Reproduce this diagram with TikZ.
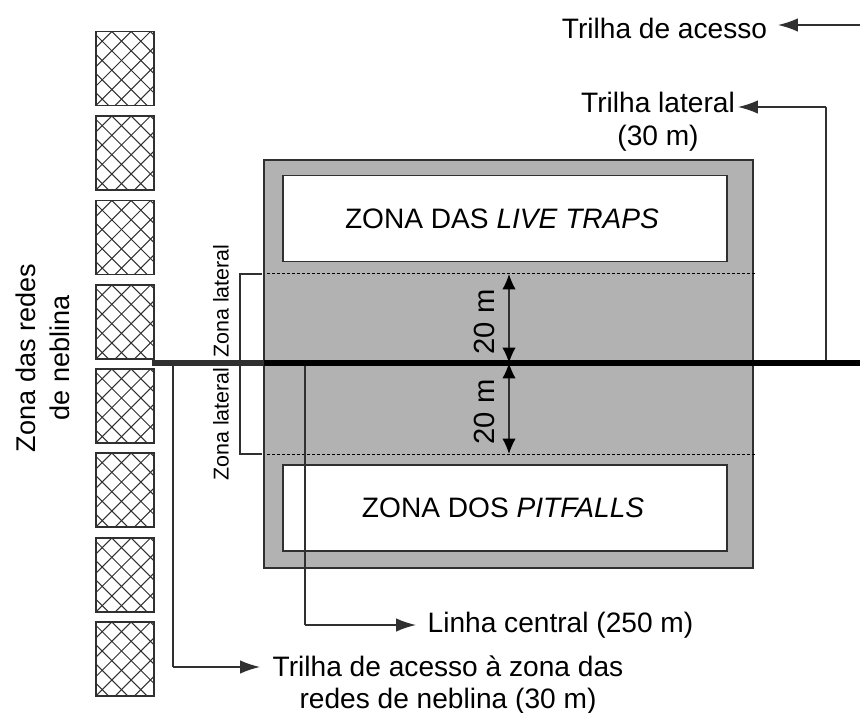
\documentclass[tikz,border=0pt]{standalone}
\usepackage{fontspec}
\setmainfont{Liberation Sans}
\usetikzlibrary{arrows.meta}
\definecolor{zonegray}{HTML}{B2B2B2}
\definecolor{linegray}{HTML}{303030}
\begin{document}
\begin{tikzpicture}[x=0.02cm, y=-0.02cm,
    netbox/.style={draw=linegray, line width=0.35mm, minimum width=1.16cm, minimum height=1.48cm, inner sep=0pt,
      path picture={
        \foreach \d in {-100,-80.7,...,100} {
          \draw[linegray, line width=0.2mm] ([xshift=\d*0.02cm]path picture bounding box.north west) -- ++(100,100);
          \draw[linegray, line width=0.2mm] ([xshift=\d*0.02cm]path picture bounding box.north east) -- ++(-100,100);
        }}},
    zonebox/.style={draw=linegray, line width=0.3mm, fill=white, minimum width=8.88cm, minimum height=1.72cm, inner sep=0pt, font=\fontsize{16}{18}\selectfont},
    label/.style={inner sep=0pt, align=center, font=\fontsize{16}{18.7}\selectfont},
    smalllabel/.style={inner sep=0pt, rotate=90, font=\fontsize{12.2}{14}\selectfont},
    conn/.style={draw=linegray, line width=0.3mm},
    arrow/.style={conn, -{Latex[length=4mm, width=2.7mm]}},
    dim/.style={draw=linegray, line width=0.25mm, {Latex[black, length=3.1mm, width=2.7mm]}-{Latex[black, length=3.1mm, width=2.7mm]}}]
  \useasboundingbox (0,0) rectangle (860,713);

  % mist nets
  \node[netbox] (net1) at (125, 68.5) {};
  \node[netbox] (net2) at (125, 153) {};
  \node[netbox] (net3) at (125, 237.5) {};
  \node[netbox] (net4) at (125, 322) {};
  \node[netbox] (net5) at (125, 406) {};
  \node[netbox] (net6) at (125, 490) {};
  \node[netbox] (net7) at (125, 575) {};
  \node[netbox] (net8) at (125, 659) {};

  \node[draw=linegray, line width=0.3mm, fill=zonegray, minimum width=9.78cm, minimum height=8.16cm, inner sep=0pt] (grid) at (508.5, 364) {};
  \node[zonebox] (traps) at (505, 218.5) {ZONA DAS \textit{LIVE TRAPS}\hspace*{3.4pt}};
  \node[zonebox] (pits) at (505, 508) {ZONA DOS \textit{PITFALLS}\hspace*{2.2pt}};

  \node[label, rotate=90, font=\fontsize{15.4}{19.3}\selectfont] (nets) at (43, 358) {Zona das redes\\de neblina};
  \node[label] (access) at (664.5, 28) {Trilha de acesso};
  \node[label] (lateral) at (658, 122) {Trilha lateral\\(30 m)};
  \node[label] (central) at (560.5, 625) {Linha central (250 m)};
  \node[label] (accessnet) at (448, 685) {Trilha de acesso à zona das\\redes de neblina (30 m)};
  \node[smalllabel] (upperzone) at (221, 301) {Zona lateral};
  \node[smalllabel] (lowerzone) at (221, 424) {Zona lateral};
  \node[label, rotate=90, font=\fontsize{16.6}{19}\selectfont] (upperdim) at (484, 322) {20 m};
  \node[label, rotate=90, font=\fontsize{16.6}{19}\selectfont] (lowerdim) at (484, 412) {20 m};

  \coordinate (lineleft) at (152, 363);
  \coordinate (linegrid) at (264, 363);
  \coordinate (lineright) at (860, 363);
  \coordinate (upperleft) at (267, 274);
  \coordinate (upperright) at (755, 274);
  \coordinate (lowerleft) at (267, 454);
  \coordinate (lowerright) at (755, 454);
  \coordinate (bracketup) at (262, 274);
  \coordinate (bracketdown) at (262, 454);
  \coordinate (bracketcorner) at (240, 274);
  \coordinate (bracketend) at (240, 454);
  \coordinate (accessright) at (860, 25);
  \coordinate (lateralfoot) at (826, 363);
  \coordinate (lateralcorner) at (826, 107);
  \coordinate (lateralend) at (738, 107);
  \coordinate (centralfoot) at (305, 363);
  \coordinate (centralcorner) at (305, 625);
  \coordinate (centralend) at (416, 625);
  \coordinate (netfoot) at (173, 363);
  \coordinate (netcorner) at (173, 667);
  \coordinate (netend) at (260, 667);
  \coordinate (accessend) at (778, 25);
  \coordinate (dimup) at (509, 274);
  \coordinate (dimmid) at (509, 363);
  \coordinate (dimdown) at (509, 454);

  % dotted limits
  \draw[black, line width=0.2mm, dash pattern=on 0.6mm off 0.4mm] (upperleft) -- (upperright);
  \draw[black, line width=0.2mm, dash pattern=on 0.6mm off 0.4mm] (lowerleft) -- (lowerright);
  \draw[conn] (bracketup) -- (bracketcorner) -- (bracketend) -- (bracketdown);

  \draw[conn] (centralfoot) -- (centralcorner);
  \draw[arrow] (centralcorner) -- (centralend);
  \draw[conn] (netfoot) -- (netcorner);
  \draw[arrow] (netcorner) -- (netend);
  \draw[conn] (lateralfoot) -- (lateralcorner);
  \draw[arrow] (lateralcorner) -- (lateralend);
  \draw[arrow] (accessright) -- (accessend);

  \draw[dim] (dimup) -- (dimmid);
  \draw[dim] (dimmid) -- (dimdown);

  \draw[linegray, line width=1.2mm] (lineleft) -- (linegrid);
  \draw[black, line width=1.2mm] (linegrid) -- (lineright);
\end{tikzpicture}
\end{document}
